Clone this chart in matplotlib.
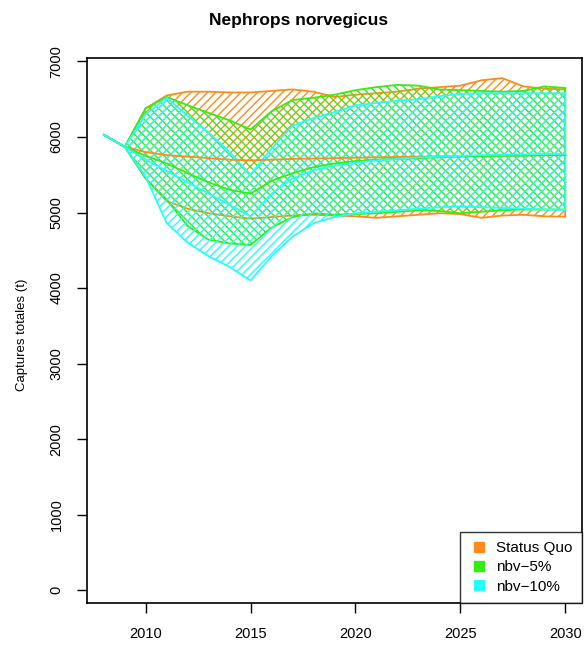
import matplotlib
matplotlib.use("Agg")
import matplotlib.pyplot as plt
import numpy as np

years = list(range(2008, 2031))

# Status Quo scenario
sq_upper = [6030, 5870, 6380, 6550, 6600, 6600, 6590, 6590, 6610, 6630, 6600, 6530,
            6560, 6580, 6600, 6640, 6660, 6680, 6750, 6780, 6670, 6640, 6630]
sq_median = [6030, 5870, 5800, 5760, 5740, 5720, 5700, 5690, 5700, 5710, 5715, 5720,
             5725, 5730, 5735, 5740, 5745, 5750, 5750, 5755, 5755, 5760, 5760]
sq_lower = [6030, 5870, 5450, 5150, 5050, 4990, 4950, 4920, 4940, 4960, 4970, 4960,
            4950, 4930, 4950, 4970, 4990, 4980, 4930, 4960, 4970, 4950, 4945]

# nbv-5% scenario
n5_upper = [6030, 5870, 6380, 6530, 6420, 6320, 6220, 6100, 6340, 6490, 6520, 6560,
            6620, 6660, 6690, 6680, 6630, 6620, 6610, 6600, 6610, 6670, 6650]
n5_median = [6030, 5870, 5750, 5650, 5520, 5400, 5300, 5250, 5420, 5520, 5600, 5650,
             5680, 5700, 5710, 5720, 5730, 5740, 5745, 5750, 5755, 5760, 5760]
n5_lower = [6030, 5870, 5450, 5170, 4820, 4640, 4590, 4570, 4800, 4940, 4990, 4970,
            4980, 4990, 5010, 5030, 5020, 4990, 5010, 5030, 5040, 5040, 5040]

# nbv-10% scenario
n10_upper = [6030, 5870, 6300, 6520, 6280, 6060, 5800, 5500, 5850, 6150, 6250, 6330,
             6420, 6450, 6480, 6500, 6540, 6570, 6580, 6580, 6580, 6580, 6580]
n10_median = [6030, 5870, 5700, 5550, 5400, 5250, 5100, 4950, 5250, 5450, 5560, 5620,
              5660, 5690, 5710, 5730, 5740, 5750, 5760, 5765, 5770, 5775, 5775]
n10_lower = [6030, 5870, 5470, 4860, 4600, 4420, 4280, 4100, 4420, 4680, 4860, 4940,
             4990, 5010, 5030, 5050, 5070, 5080, 5070, 5060, 5050, 5040, 5035]

labels = ["Status Quo", "nbv\u22125%", "nbv\u221210%"]
colors = ["#FF8C1A", "#33EE11", "#22FFFF"]
hatches = ["////", "\\\\\\\\", "////"]

series = [
    (sq_lower, sq_median, sq_upper),
    (n5_lower, n5_median, n5_upper),
    (n10_lower, n10_median, n10_upper),
]

plt.rcParams["hatch.linewidth"] = 1.0
plt.rcParams["font.family"] = ["Liberation Sans", "DejaVu Sans"]

fig = plt.figure(figsize=(5.85, 6.48), dpi=100)
ax = fig.add_axes([87 / 585, 1 - 603 / 648, (582 - 87) / 585, (603 - 58) / 648])

x = np.array(years, dtype=float)
for (lo, med, up), col, h in zip(series, colors, hatches):
    lo = np.array(lo, dtype=float)
    up = np.array(up, dtype=float)
    xs = np.concatenate([x, x[::-1]])
    ys = np.concatenate([up, lo[::-1]])
    ax.fill(xs, ys, facecolor="none", edgecolor=col, hatch=h, linewidth=1.3)
    ax.plot(x, med, color=col, linewidth=1.3)

ax.set_xlim(2007.2, 2030.8)
ax.set_ylim(-170, 7046)
ax.set_xticks([2010, 2015, 2020, 2025, 2030])
ax.set_yticks([0, 1000, 2000, 3000, 4000, 5000, 6000, 7000])
ax.tick_params(direction="out", length=7, width=1, labelsize=10.5, pad=10)
for lab in ax.get_yticklabels():
    lab.set_rotation(90)
    lab.set_va("center")
for s in ax.spines.values():
    s.set_linewidth(1.2)

fig.text(22 / 585, 1 - 335 / 648, "Captures totales (t)", rotation=90,
         ha="center", va="center", fontsize=9.5)
fig.text(299 / 585, 1 - 20 / 648, "Nephrops norvegicus", ha="center", va="center",
         fontsize=12.5, fontweight="bold")

handles = [plt.Line2D([], [], marker="s", linestyle="none", markersize=7,
                      markerfacecolor=c, markeredgecolor=c) for c in colors]
leg = ax.legend(handles, labels, loc="lower right", fontsize=11, frameon=True,
                fancybox=False, borderaxespad=0, handletextpad=0.5,
                labelspacing=0.35, borderpad=0.6, handlelength=1.3)
leg.get_frame().set_edgecolor("black")
leg.get_frame().set_linewidth(1.0)

fig.savefig("out.png", dpi=100)
